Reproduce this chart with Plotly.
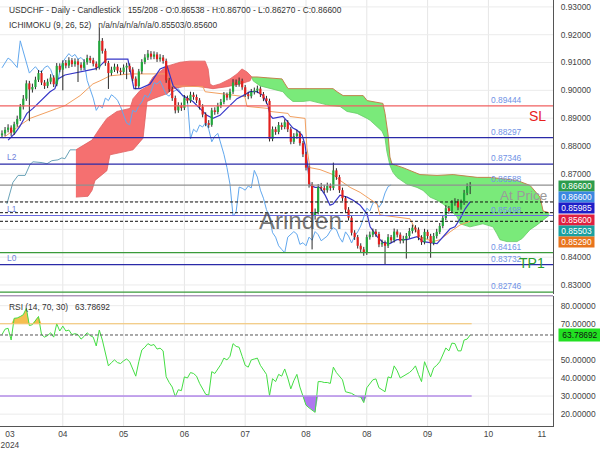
import plotly.graph_objects as go
import numpy as np

FONT = "Liberation Sans, Arial, sans-serif"

# ---------------- data ----------------
closes = [
0.8845, 0.8858, 0.8866, 0.8848, 0.8878, 0.8897, 0.8942, 0.8970, 0.9025, 0.9003,
0.9012, 0.9038, 0.9062, 0.9028, 0.9016, 0.9031, 0.9046, 0.9022, 0.9088, 0.9074,
0.9098, 0.9089, 0.9108, 0.9094, 0.9104, 0.9092, 0.9081, 0.9101, 0.9116, 0.9108,
0.9096, 0.9082, 0.9178, 0.9142, 0.9098, 0.9062, 0.9074, 0.9085, 0.9071, 0.9066,
0.9082, 0.9088, 0.9075, 0.9042, 0.9015, 0.9068, 0.9102, 0.9118, 0.9132, 0.9121,
0.9129, 0.9112, 0.9118, 0.9106, 0.9036, 0.9004, 0.8972, 0.8928, 0.8946, 0.8937,
0.8972, 0.8963, 0.8984, 0.8976, 0.8964, 0.8941, 0.8913, 0.8882, 0.8876, 0.8928,
0.8922, 0.8944, 0.8958, 0.8983, 0.8974, 0.8995, 0.9028, 0.9022, 0.9034, 0.9011,
0.8986, 0.8979, 0.8994, 0.8999, 0.9006, 0.8986, 0.8971, 0.8962, 0.8825, 0.8860,
0.8850, 0.8875, 0.8868, 0.8885, 0.8860, 0.8815, 0.8835, 0.8845, 0.8810, 0.8770,
0.8722, 0.8662, 0.8548, 0.8562, 0.8652, 0.8648, 0.8641, 0.8656, 0.8649, 0.8712,
0.8688, 0.8641, 0.8612, 0.8571, 0.8542, 0.8488, 0.8472, 0.8441, 0.8428, 0.8416,
0.8472, 0.8481, 0.8492, 0.8483, 0.8446, 0.8452, 0.8441, 0.8472, 0.8461, 0.8492,
0.8481, 0.8459, 0.8466, 0.8476, 0.8494, 0.8506, 0.8499, 0.8471, 0.8454, 0.8491,
0.8476, 0.8451, 0.8476, 0.8491, 0.8512, 0.8541, 0.8576, 0.8566, 0.8594, 0.8601,
0.8579, 0.8596, 0.8631, 0.86538, 0.8660]

opens = [
0.8838, 0.8845, 0.8858, 0.8866, 0.8848, 0.8878, 0.8897, 0.8942, 0.8970, 0.9025,
0.9003, 0.9012, 0.9038, 0.9062, 0.9028, 0.9016, 0.9031, 0.9046, 0.9022, 0.9088,
0.9074, 0.9098, 0.9089, 0.9108, 0.9094, 0.9104, 0.9092, 0.9081, 0.9101, 0.9116,
0.9108, 0.9096, 0.9082, 0.9178, 0.9142, 0.9098, 0.9062, 0.9074, 0.9085, 0.9071,
0.9066, 0.9082, 0.9088, 0.9075, 0.9042, 0.9015, 0.9068, 0.9102, 0.9118, 0.9132,
0.9121, 0.9129, 0.9112, 0.9118, 0.9106, 0.9036, 0.9004, 0.8972, 0.8928, 0.8946,
0.8937, 0.8972, 0.8963, 0.8984, 0.8976, 0.8964, 0.8941, 0.8913, 0.8882, 0.8876,
0.8928, 0.8922, 0.8944, 0.8958, 0.8983, 0.8974, 0.8995, 0.9028, 0.9022, 0.9034,
0.9011, 0.8986, 0.8979, 0.8994, 0.8999, 0.9006, 0.8986, 0.8971, 0.8962, 0.8825,
0.8860, 0.8850, 0.8875, 0.8868, 0.8885, 0.8860, 0.8815, 0.8835, 0.8845, 0.8810,
0.8770, 0.8722, 0.8662, 0.8548, 0.8562, 0.8652, 0.8648, 0.8641, 0.8656, 0.8649,
0.8712, 0.8688, 0.8641, 0.8612, 0.8571, 0.8542, 0.8488, 0.8472, 0.8441, 0.8428,
0.8416, 0.8472, 0.8481, 0.8492, 0.8483, 0.8446, 0.8452, 0.8441, 0.8472, 0.8461,
0.8492, 0.8481, 0.8459, 0.8466, 0.8476, 0.8494, 0.8506, 0.8499, 0.8471, 0.8454,
0.8491, 0.8476, 0.8451, 0.8476, 0.8491, 0.8512, 0.8541, 0.8576, 0.8566, 0.8594,
0.8601, 0.8579, 0.8596, 0.8631, 0.86538]

highs = [
0.8856, 0.8868, 0.8878, 0.8874, 0.8887, 0.8909, 0.8951, 0.8983, 0.9036, 0.9034,
0.9024, 0.9049, 0.9073, 0.9071, 0.9037, 0.9042, 0.9058, 0.9054, 0.9098, 0.9097,
0.9108, 0.9109, 0.9119, 0.9116, 0.9115, 0.9113, 0.9101, 0.9112, 0.9128, 0.9124,
0.9117, 0.9104, 0.9225, 0.9188, 0.9150, 0.9106, 0.9085, 0.9096, 0.9094, 0.9081,
0.9093, 0.9099, 0.9097, 0.9083, 0.9050, 0.9077, 0.9112, 0.9130, 0.9145, 0.9141,
0.9140, 0.9137, 0.9130, 0.9127, 0.9114, 0.9045, 0.9013, 0.8981, 0.8957, 0.8956,
0.8983, 0.8981, 0.8995, 0.8993, 0.8985, 0.8972, 0.8950, 0.8921, 0.8893, 0.8937,
0.8939, 0.8955, 0.8969, 0.8994, 0.8992, 0.9006, 0.9040, 0.9039, 0.9046, 0.9042,
0.9019, 0.8995, 0.9005, 0.9010, 0.9017, 0.9014, 0.8994, 0.8980, 0.8970, 0.8870,
0.8869, 0.8886, 0.8884, 0.8896, 0.8893, 0.8868, 0.8846, 0.8857, 0.8853, 0.8818,
0.8779, 0.8730, 0.8670, 0.8575, 0.8663, 0.8667, 0.8660, 0.8668, 0.8665, 0.8740,
0.8720, 0.8696, 0.8650, 0.8620, 0.8580, 0.8551, 0.8497, 0.8480, 0.8450, 0.8437,
0.8481, 0.8492, 0.8503, 0.8501, 0.8491, 0.8463, 0.8460, 0.8483, 0.8480, 0.8503,
0.8500, 0.8489, 0.8477, 0.8487, 0.8505, 0.8517, 0.8515, 0.8507, 0.8479, 0.8502,
0.8499, 0.8484, 0.8487, 0.8502, 0.8523, 0.8552, 0.8587, 0.8584, 0.8605, 0.8612,
0.8609, 0.8607, 0.8642, 0.8665, 0.8670]

lows = [
0.8829, 0.8836, 0.8849, 0.8836, 0.8840, 0.8869, 0.8890, 0.8931, 0.8962, 0.8889,
0.8992, 0.9004, 0.9030, 0.9019, 0.9005, 0.9008, 0.9022, 0.9012, 0.9015, 0.9065,
0.9000, 0.9079, 0.9080, 0.9084, 0.9085, 0.9030, 0.9071, 0.9073, 0.9092, 0.9098,
0.9086, 0.9072, 0.9075, 0.9132, 0.9088, 0.9005, 0.9053, 0.9066, 0.9061, 0.9055,
0.9058, 0.9040, 0.9066, 0.9033, 0.9004, 0.9008, 0.9059, 0.9094, 0.9109, 0.9111,
0.9112, 0.9102, 0.9103, 0.9096, 0.9027, 0.8994, 0.8962, 0.8917, 0.8919, 0.8926,
0.8929, 0.8953, 0.8955, 0.8966, 0.8954, 0.8931, 0.8903, 0.8871, 0.8865, 0.8869,
0.8912, 0.8914, 0.8936, 0.8950, 0.8964, 0.8966, 0.8987, 0.9012, 0.9013, 0.9002,
0.8976, 0.8968, 0.8971, 0.8985, 0.8990, 0.8976, 0.8961, 0.8952, 0.8816, 0.8817,
0.8840, 0.8842, 0.8858, 0.8860, 0.8850, 0.8806, 0.8807, 0.8826, 0.8801, 0.8760,
0.8712, 0.8650, 0.8428, 0.8535, 0.8554, 0.8638, 0.8630, 0.8632, 0.8639, 0.8641,
0.8678, 0.8631, 0.8602, 0.8561, 0.8532, 0.8478, 0.8462, 0.8431, 0.8418, 0.8405,
0.8408, 0.8463, 0.8472, 0.8473, 0.8436, 0.8437, 0.8375, 0.8433, 0.8451, 0.8453,
0.8471, 0.8449, 0.8450, 0.8395, 0.8467, 0.8485, 0.8489, 0.8461, 0.8444, 0.8446,
0.8466, 0.8398, 0.8443, 0.8467, 0.8483, 0.8504, 0.8533, 0.8556, 0.8558, 0.8585,
0.8569, 0.8571, 0.8588, 0.8623, 0.8627]

rsi = [
64.0, 67.0, 67.5, 61.0, 73.0, 73.2, 74.0, 75.0, 78.5, 69.0,
69.5, 72.0, 74.0, 64.0, 62.6, 63.5, 65.0, 62.6, 70.0, 66.0,
68.7, 66.0, 66.5, 64.0, 64.5, 64.0, 61.5, 63.0, 65.0, 63.5,
62.6, 57.7, 66.5, 61.0, 54.0, 46.7, 48.5, 50.0, 48.5, 48.0,
49.5, 50.5, 49.0, 45.0, 41.0, 49.0, 55.5, 57.0, 59.0, 58.0,
58.5, 56.0, 56.5, 55.0, 40.7, 37.5, 35.0, 29.7, 33.5, 33.0,
40.6, 40.0, 43.0, 42.5, 41.0, 37.0, 34.0, 31.0, 30.5, 43.5,
42.5, 45.0, 47.5, 51.0, 50.0, 52.0, 59.0, 57.5, 57.0, 52.0,
47.0, 46.0, 50.0, 50.5, 51.0, 47.0, 44.5, 42.0, 30.3, 39.6,
38.0, 42.0, 41.0, 45.0, 40.0, 34.0, 38.5, 42.0, 35.0, 29.7,
25.0, 23.5, 22.0, 21.0, 38.0, 38.0, 37.5, 37.5, 37.0, 46.0,
43.0, 41.0, 39.0, 32.4, 32.0, 31.5, 30.5, 29.7, 29.5, 26.4,
34.6, 37.0, 39.0, 39.5, 34.6, 33.5, 32.4, 40.6, 40.0, 46.7,
44.0, 40.0, 41.0, 42.0, 43.0, 44.5, 46.7, 42.0, 38.0, 49.0,
45.0, 40.6, 45.6, 47.0, 49.0, 52.5, 56.6, 55.0, 59.3, 59.0,
55.0, 55.0, 61.0, 61.5, 63.78692]

# Ichimoku lines (bar index, price)
tenkan_x = [2.0, 4.3, 5.9, 8.2, 10.2, 13.5, 15.8, 17.4, 18.4, 20.7, 24.0, 28.0, 30.6, 32.2,
            34.5, 41.4, 42.4, 43.4, 45.4, 48.7, 52.0, 54.3, 56.3, 59.5, 62.8, 67.4, 69.4,
            71.7, 74.0, 77.3, 79.3, 81.6, 83.9, 85.9, 87.5, 88.2, 89.1, 92.4, 93.8, 95.7,
            97.0, 98.7, 99.7, 100.7, 101.3, 103.0, 104.6, 106.3, 107.9, 108.9, 110.2, 111.2,
            113.5, 115.5, 117.8, 120.1, 121.1, 123.4, 125.3, 127.6, 129.9, 133.2, 136.5,
            138.5, 143.1, 145.1, 147.4, 149.0, 150.7, 152.3, 154.0]
tenkan_y = [0.8821, 0.8846, 0.8871, 0.8917, 0.8935, 0.8970, 0.8995, 0.9006, 0.9041, 0.9055,
            0.9062, 0.9070, 0.9077, 0.9087, 0.9112, 0.9112, 0.9059, 0.9006, 0.9006, 0.9023,
            0.9077, 0.9087, 0.9016, 0.8981, 0.8960, 0.8910, 0.8899, 0.8910, 0.8935, 0.8970,
            0.8981, 0.8995, 0.8995, 0.8981, 0.8945, 0.8910, 0.8899, 0.8906, 0.8889, 0.8864,
            0.8857, 0.8839, 0.8804, 0.8722, 0.8658, 0.8651, 0.8651, 0.8623, 0.8587, 0.8591,
            0.8609, 0.8623, 0.8616, 0.8605, 0.8587, 0.8555, 0.8509, 0.8474, 0.8453, 0.8449,
            0.8463, 0.8463, 0.8474, 0.8456, 0.8449, 0.8474, 0.8502, 0.8509, 0.8538, 0.8573,
            0.85985]
kijun_x = [0.3, 3.6, 5.9, 9.2, 15.8, 20.7, 25.7, 28.0, 29.9, 32.2, 35.5, 42.1, 53.6, 55.3,
           55.9, 66.1, 66.8, 75.0, 79.9, 80.6, 87.5, 88.2, 94.1, 94.7, 99.7, 100.3, 101.3,
           104.6, 108.9, 111.2, 114.5, 117.8, 120.1, 123.4, 124.3, 128.6, 134.2, 135.9,
           137.5, 141.8, 144.1, 147.4, 150.7, 154.0]
kijun_y = [0.8828, 0.8857, 0.8874, 0.8899, 0.8924, 0.8945, 0.8981, 0.9006, 0.9023, 0.9034,
           0.9052, 0.9059, 0.9059, 0.9034, 0.9016, 0.9013, 0.8995, 0.8984, 0.8977, 0.8942,
           0.8935, 0.8924, 0.8917, 0.8906, 0.8899, 0.8793, 0.8722, 0.8715, 0.8697, 0.8676,
           0.8651, 0.8633, 0.8616, 0.8591, 0.8552, 0.8545, 0.8538, 0.8502, 0.8474, 0.8456,
           0.8463, 0.8491, 0.8516, 0.8529]
span_a_pre_x = [1.6, 2.6, 3.6, 5.3, 7.6, 9.2, 10.2, 13.2, 14.8, 16.4, 18.4, 19.7, 20.7, 22.4, 24.3]
span_a_pre_y = [0.8591, 0.8626, 0.8669, 0.8694, 0.8694, 0.8733, 0.8743, 0.8740, 0.8736, 0.8747,
                0.8750, 0.8757, 0.8754, 0.8786, 0.8786]
red_top_x = [24.3, 29.6, 32.2, 34.5, 37.8, 42.1, 43.1, 45.4, 47.7, 49.7, 54.3, 58.6, 61.8, 66.8,
             67.8, 68.4, 69.4, 71.7, 75.0, 77.3, 78.9, 80.6, 82.2]
red_top_y = [0.8786, 0.8821, 0.8864, 0.8899, 0.8924, 0.8935, 0.8970, 0.8999, 0.9013, 0.9048,
             0.9087, 0.9101, 0.9105, 0.9105, 0.9077, 0.9023, 0.9016, 0.9023, 0.9041, 0.9059,
             0.9077, 0.9066, 0.9048]
red_bot_x = [24.3, 28.3, 29.6, 30.6, 34.5, 35.5, 43.1, 46.4, 47.7, 49.7, 54.3, 56.3, 59.5, 62.8,
             65.1, 69.4, 74.0, 78.3, 81.6, 82.2]
red_bot_y = [0.8616, 0.8619, 0.8640, 0.8676, 0.8711, 0.8768, 0.8786, 0.8828, 0.8960, 0.8970,
             0.8988, 0.9006, 0.9013, 0.9016, 0.9013, 0.9006, 0.9013, 0.9023, 0.9034, 0.9048]
green_bot_x = [82.2, 82.6, 84.9, 88.2, 92.4, 93.8, 95.7, 99.0, 101.3, 107.9, 111.2, 113.5, 116.8,
               120.1, 121.1, 125.0, 126.0, 126.6, 127.6, 128.6, 129.9, 133.2, 136.5, 138.5,
               140.8, 143.1, 145.1, 147.4, 149.7, 150.7, 153.9, 158.2, 161.5, 162.8, 163.8,
               166.1, 169.4, 171.1, 173.7, 176.0, 180.0]
green_bot_y = [0.9048, 0.9034, 0.9016, 0.9006, 0.8995, 0.8977, 0.8960, 0.8960, 0.8963, 0.8945,
               0.8942, 0.8924, 0.8917, 0.8899, 0.8892, 0.8853, 0.8828, 0.8780, 0.8730, 0.8705,
               0.8687, 0.8662, 0.8651, 0.8640, 0.8616, 0.8605, 0.8591, 0.8570, 0.8545, 0.8520,
               0.8509, 0.8520, 0.8509, 0.8484, 0.8463, 0.8456, 0.8456, 0.8467, 0.8499, 0.8516,
               0.85503]
green_top_x = [82.2, 83.9, 87.2, 92.1, 93.1, 94.1, 101.3, 108.9, 110.2, 112.2, 118.8, 120.1,
               125.3, 126.0, 127.0, 127.6, 128.3, 131.9, 137.5, 143.1, 148.4, 151.6, 156.3,
               160.5, 163.8, 169.4, 173.7, 177.0, 178.0, 180.0]
green_top_y = [0.9048, 0.9048, 0.9045, 0.9041, 0.9023, 0.9006, 0.9006, 0.9006, 0.8995, 0.8981,
               0.8981, 0.8963, 0.8953, 0.8917, 0.8840, 0.8760, 0.8735, 0.8722, 0.8697, 0.8694,
               0.8697, 0.8694, 0.8687, 0.8687, 0.8683, 0.8676, 0.8658, 0.8616, 0.8566, 0.8560]
chikou_shift = 26

levels = [0.89444, 0.88297, 0.87346, 0.86588, 0.85498, 0.84161, 0.83732, 0.82746]
level_colors = ["#f06060", "#2a2aa8", "#2a2aa8", "#909090", "#6a6ae0", "#3a9a3a", "#2a2aa8", "#3a9a3a"]
dashed_levels = [0.85985, 0.85600, 0.85290]
tag_values = ["0.86600", "0.86600", "0.85985", "0.85600", "0.85503", "0.85290"]
tag_colors = ["#2c9c4c", "#3b87e0", "#1e1ec8", "#e02040", "#1aa0a0", "#e8741c"]
last_price = 0.86600
rsi_last = 63.78692

price_ticks = [0.83, 0.84, 0.87, 0.88, 0.89, 0.90, 0.91, 0.92, 0.93]   # 0.85/0.86 hidden by tags
price_grid = [0.83, 0.84, 0.85, 0.86, 0.87, 0.88, 0.89, 0.90, 0.91, 0.92, 0.93]
rsi_ticks = [20, 30, 40, 50, 70, 80]                                   # 60 hidden by tag
rsi_grid = [20, 30, 40, 50, 60, 70, 80]

tick_idx = [2.6, 20, 40, 60, 80, 100, 120, 140, 160, 177.6]
tick_text = ["03<br>2024", "04", "05", "06", "07", "08", "08", "09", "10", "11"]
grid_idx = [20, 40, 60, 80, 100, 120, 140, 160]

n = len(closes)
assert len(opens) == n and len(highs) == n and len(lows) == n and len(rsi) == n
idx = list(range(n))
XR = [-0.66, 181.25]

fig = go.Figure()

# --- Ichimoku cloud ---
fig.add_trace(go.Scatter(x=span_a_pre_x, y=span_a_pre_y, mode="lines",
                         line=dict(color="#6aa3b8", width=1), hoverinfo="skip"))
fig.add_trace(go.Scatter(x=red_bot_x, y=red_bot_y, mode="lines",
                         line=dict(color="#e06060", width=0.8), hoverinfo="skip"))
fig.add_trace(go.Scatter(x=red_top_x, y=red_top_y, mode="lines", fill="tonexty",
                         fillcolor="rgb(245,112,112)",
                         line=dict(color="#e06060", width=0.8), hoverinfo="skip"))
fig.add_trace(go.Scatter(x=green_bot_x, y=green_bot_y, mode="lines",
                         line=dict(color="#66cc66", width=0.8), hoverinfo="skip"))
fig.add_trace(go.Scatter(x=green_top_x, y=green_top_y, mode="lines", fill="tonexty",
                         fillcolor="rgb(122,234,122)",
                         line=dict(color="#c0844c", width=1), hoverinfo="skip"))

# chikou, kijun, tenkan
fig.add_trace(go.Scatter(x=idx[:n - chikou_shift], y=closes[chikou_shift:], mode="lines",
                         line=dict(color="#62a8ee", width=1), hoverinfo="skip"))
fig.add_trace(go.Scatter(x=kijun_x, y=kijun_y, mode="lines",
                         line=dict(color="#f2a060", width=1), hoverinfo="skip"))
fig.add_trace(go.Scatter(x=tenkan_x, y=tenkan_y, mode="lines",
                         line=dict(color="#3636c8", width=1.2), hoverinfo="skip"))

# --- candles ---
wx, wy = [], []
gx, gy, rx, ry = [], [], [], []
for i in idx:
    wx += [i, i, None]
    wy += [lows[i], highs[i], None]
    if closes[i] >= opens[i]:
        gx += [i, i, None]; gy += [opens[i], closes[i], None]
    else:
        rx += [i, i, None]; ry += [opens[i], closes[i], None]
fig.add_trace(go.Scatter(x=wx, y=wy, mode="lines", line=dict(color="#2a2a2a", width=1),
                         hoverinfo="skip"))
fig.add_trace(go.Scatter(x=gx, y=gy, mode="lines", line=dict(color="#22a83c", width=2.2),
                         hoverinfo="skip"))
fig.add_trace(go.Scatter(x=rx, y=ry, mode="lines", line=dict(color="#e2201e", width=2.2),
                         hoverinfo="skip"))

# --- RSI ---
rsi_arr = np.array(rsi)
fig.add_trace(go.Scatter(x=idx, y=[70] * n, mode="lines", line=dict(width=0),
                         xaxis="x2", yaxis="y2", hoverinfo="skip"))
fig.add_trace(go.Scatter(x=idx, y=np.maximum(rsi_arr, 70), mode="lines", line=dict(width=0),
                         fill="tonexty", fillcolor="rgb(245,190,80)",
                         xaxis="x2", yaxis="y2", hoverinfo="skip"))
fig.add_trace(go.Scatter(x=idx, y=[30] * n, mode="lines", line=dict(width=0),
                         xaxis="x2", yaxis="y2", hoverinfo="skip"))
fig.add_trace(go.Scatter(x=idx, y=np.minimum(rsi_arr, 30), mode="lines", line=dict(width=0),
                         fill="tonexty", fillcolor="rgb(176,120,240)",
                         xaxis="x2", yaxis="y2", hoverinfo="skip"))
fig.add_trace(go.Scatter(x=idx, y=rsi, mode="lines", line=dict(color="#44dd44", width=1),
                         xaxis="x2", yaxis="y2", hoverinfo="skip"))

# --- shapes ---
shapes = []
for g in grid_idx:
    shapes.append(dict(type="line", xref="x", yref="paper", x0=g, x1=g, y0=0, y1=1,
                       line=dict(color="#e6e6e6", width=1), layer="below"))
for p in price_grid:
    shapes.append(dict(type="line", xref="paper", yref="y", x0=0, x1=1, y0=p, y1=p,
                       line=dict(color="#ebebeb", width=1), layer="below"))
for r in rsi_grid:
    shapes.append(dict(type="line", xref="paper", yref="y2", x0=0, x1=1, y0=r, y1=r,
                       line=dict(color="#ebebeb", width=1), layer="below"))
for lv, col in zip(levels, level_colors):
    shapes.append(dict(type="line", xref="paper", yref="y", x0=0, x1=1, y0=lv, y1=lv,
                       line=dict(color=col, width=1.2), layer="above"))
for lv in dashed_levels:
    shapes.append(dict(type="line", xref="paper", yref="y", x0=0, x1=1, y0=lv, y1=lv,
                       line=dict(color="#111111", width=1, dash="3px,2px"), layer="above"))
shapes.append(dict(type="line", xref="x2", yref="y2", x0=XR[0], x1=n - 0.5, y0=70, y1=70,
                   line=dict(color="#f5c36a", width=1.2)))
shapes.append(dict(type="line", xref="x2", yref="y2", x0=XR[0], x1=n - 0.5, y0=30, y1=30,
                   line=dict(color="#b58ee8", width=1.5)))
shapes.append(dict(type="line", xref="paper", yref="y2", x0=0, x1=1, y0=rsi_last, y1=rsi_last,
                   line=dict(color="#555555", width=1, dash="3px,2px")))
shapes.append(dict(type="line", xref="paper", yref="paper", x0=0, x1=1, y0=0.3056, y1=0.3056,
                   line=dict(color="#86689a", width=1)))

# --- annotations ---
F = 8.4
ann = []
NB = "\u00a0"
ann.append(dict(xref="paper", yref="paper", x=0, y=0.9757, xshift=7, xanchor="left",
                yanchor="middle", showarrow=False,
                text="USDCHF - Daily - Candlestick" + NB * 3 +
                     "155/208 - O:0.86538 - H:0.86700 - L:0.86270 - C:0.86600",
                font=dict(size=F, color="#333333", family=FONT)))
ann.append(dict(xref="paper", yref="paper", x=0, y=0.9421, xshift=7, xanchor="left",
                yanchor="middle", showarrow=False,
                text="ICHIMOKU (9, 26, 52)" + NB * 3 + "n/a/n/a/n/a/n/a/0.85503/0.85600",
                font=dict(size=F, color="#333333", family=FONT)))
ann.append(dict(xref="paper", yref="paper", x=0, y=0.2801, xshift=7, xanchor="left",
                yanchor="middle", showarrow=False,
                text="RSI (14, 70, 30)" + NB * 3 + "63.78692",
                font=dict(size=F, color="#333333", family=FONT)))
for lv in levels:
    ann.append(dict(xref="paper", yref="y", x=0.8843, y=lv, yshift=-1, xanchor="left",
                    yanchor="bottom", showarrow=False, text="%.5f" % lv,
                    font=dict(size=F, color="#7193e6", family=FONT)))
for name, lv in [("L2", 0.87346), ("L1", 0.85498), ("L0", 0.83732)]:
    ann.append(dict(xref="paper", yref="y", x=0.009, y=lv, xanchor="left", yanchor="bottom",
                    showarrow=False, text=name,
                    font=dict(size=F, color="#6f7fdc", family=FONT)))
ann.append(dict(xref="paper", yref="y", x=0.991, y=0.89444, xanchor="right", yanchor="top",
                showarrow=False, text="SL", font=dict(size=14, color="#e8201c", family=FONT)))
ann.append(dict(xref="paper", yref="y", x=0.989, y=0.84161, xanchor="right", yanchor="top",
                showarrow=False, text="TP1", font=dict(size=14, color="#2a9d2a", family=FONT)))
ann.append(dict(xref="paper", yref="y", x=0.991, y=0.86588, yshift=-2, xanchor="right",
                yanchor="top", showarrow=False, text="At Price", borderpad=0,
                font=dict(size=13.5, color="#9a9a9a", family=FONT)))
ann.append(dict(xref="paper", yref="y", x=0.544, y=0.85305, xanchor="center", yanchor="middle",
                showarrow=False, text="Arinden",
                font=dict(size=24, color="rgba(70,70,70,0.75)", family=FONT)))
for k, (tv, tc) in enumerate(zip(tag_values, tag_colors)):
    ann.append(dict(xref="paper", yref="y", x=1, y=last_price, xshift=5, yshift=-11.3 * k - 1,
                    xanchor="left", yanchor="middle", showarrow=False,
                    text=NB + tv + NB, bgcolor=tc, borderpad=0,
                    font=dict(size=F, color="white", family=FONT)))
ann.append(dict(xref="paper", yref="y2", x=1, y=rsi_last, xshift=5, xanchor="left",
                yanchor="middle", showarrow=False, text=NB + "63.78692" + NB,
                bgcolor="#22e022", borderpad=1, font=dict(size=F, color="#111111", family=FONT)))

axis_font = dict(size=F, color="#444444", family=FONT)
fig.update_layout(
    width=600, height=450, margin=dict(l=0, r=47, t=0, b=18),
    plot_bgcolor="white", paper_bgcolor="white", showlegend=False,
    font=dict(family=FONT),
    xaxis=dict(domain=[0, 1], range=XR, showgrid=False, zeroline=False,
               showticklabels=False, anchor="y"),
    yaxis=dict(domain=[0.3102, 1], range=[0.826809, 0.932482], side="right", anchor="x",
               tickmode="array", tickvals=price_ticks, tickformat=".5f", showgrid=False,
               zeroline=False, showline=True, linecolor="#555555", ticks="outside",
               ticklen=5, tickcolor="rgba(0,0,0,0)", tickfont=axis_font),
    xaxis2=dict(domain=[0, 1], range=XR, anchor="y2", tickmode="array", tickvals=tick_idx,
                ticktext=tick_text, showgrid=False, zeroline=False, showline=True,
                linecolor="#555555", ticks="", tickfont=axis_font),
    yaxis2=dict(domain=[0, 0.3056], range=[13.45, 85.45], side="right", anchor="x2",
                tickmode="array", tickvals=rsi_ticks, tickformat=".5f", showgrid=False,
                zeroline=False, showline=True, linecolor="#555555", ticks="outside",
                ticklen=5, tickcolor="rgba(0,0,0,0)", tickfont=axis_font),
    shapes=shapes, annotations=ann,
)

fig.write_html("out.html")
